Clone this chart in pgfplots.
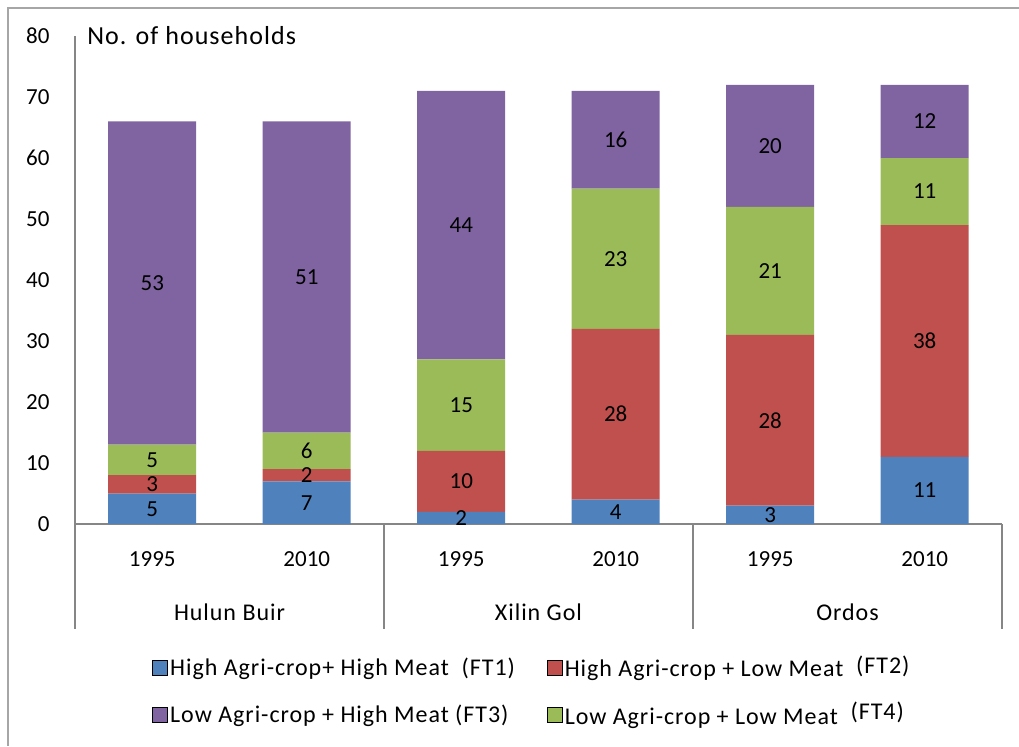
\documentclass[border=0pt]{standalone}
\usepackage{fontspec}
\setmainfont{Carlito}
\newfontfamily\widefont[LetterSpace=4.0]{Carlito}
\usepackage{pgfplots}
\pgfplotsset{compat=1.18}
\usepackage{pgfplotstable}
\definecolor{ftblue}{HTML}{4F81BD}
\definecolor{ftred}{HTML}{C0504D}
\definecolor{ftgreen}{HTML}{9BBB59}
\definecolor{ftpurple}{HTML}{8064A2}
\definecolor{axgray}{HTML}{868686}
\definecolor{bordergray}{HTML}{A6A6A6}

\pgfplotstableread{
x ft1 ft2 ft4 ft3
0 5  3  5  53
1 7  2  6  51
2 2  10 15 44
3 4  28 23 16
4 3  28 21 20
5 11 38 11 12
}\datatable

\begin{document}
{\fontsize{11.5}{14}\selectfont
\begin{tikzpicture}
\path[use as bounding box] (-37.5pt,-111pt) rectangle (472pt,262pt);
\draw[bordergray, line width=1pt] (-33.5pt,-111pt) -- (-33.5pt,258pt) -- (472pt,258pt);
\begin{axis}[
  at={(0,0)}, anchor=south west,
  scale only axis, width=463.5pt, height=244pt,
  xmin=-0.5, xmax=5.5, ymin=0, ymax=80,
  axis line style={draw=none},
  tick style={draw=none},
  ytick={0,10,...,80},
  xtick={0,...,5},
  xticklabels={1995,2010,1995,2010,1995,2010},
  yticklabel style={anchor=east, xshift=-8.7pt},
  xticklabel style={anchor=center, yshift=-17.5pt},
  /pgf/number format/assume math mode=true,
  ybar stacked, bar width=44pt,
  clip=false,
  nodes near coords={\pgfmathprintnumber{\pgfplotspointmeta}},
  point meta=explicit,
  every node near coord/.append style={anchor=center, text=black, inner sep=0pt},
  legend image code/.code={\fill[#1] (0pt,-3.75pt) rectangle (7.5pt,3.75pt);},
  legend columns=2,
  legend cell align=left,
  legend style={at={(axis description cs:0.0831,-0.266)}, anchor=north west,
    draw=none, fill=none, inner sep=0pt, row sep=9pt,
    font=\fontsize{12}{14}\widefont,
    nodes={inner sep=1pt},
    /tikz/every even column/.append style={column sep=15pt}},
]
\addlegendimage{fill=ftblue}
\addlegendentry{High Agri-crop+ High Meat\ \ (FT1)}
\addlegendimage{fill=ftred}
\addlegendentry{High Agri-crop + Low Meat\ \ \raisebox{1.5pt}{(FT2)}}
\addlegendimage{fill=ftpurple}
\addlegendentry{Low Agri-crop + High Meat (FT3)}
\addlegendimage{fill=ftgreen}
\addlegendentry{Low Agri-crop + Low Meat\ \ \raisebox{2.5pt}{(FT4)}}

\addplot[forget plot, fill=ftblue, draw=none] table[x=x, y=ft1, meta=ft1] {\datatable};
\addplot[forget plot, fill=ftred, draw=none] table[x=x, y=ft2, meta=ft2] {\datatable};
\addplot[forget plot, fill=ftgreen, draw=none] table[x=x, y=ft4, meta=ft4] {\datatable};
\addplot[forget plot, fill=ftpurple, draw=none] table[x=x, y=ft3, meta=ft3] {\datatable};

\draw[axgray, line width=0.9pt] (axis cs:-0.5,80) -- (axis cs:-0.5,0) -- ([yshift=-52.5pt]axis cs:-0.5,0);
\draw[axgray, line width=0.9pt] (axis cs:-0.5,0) -- (axis cs:5.5,0);
\draw[axgray, line width=0.9pt] (axis cs:1.5,0) -- ([yshift=-52.5pt]axis cs:1.5,0);
\draw[axgray, line width=0.9pt] (axis cs:3.5,0) -- ([yshift=-52.5pt]axis cs:3.5,0);
\draw[axgray, line width=0.9pt] (axis cs:5.5,0) -- ([yshift=-52.5pt]axis cs:5.5,0);
\node[anchor=west, inner sep=0pt, xshift=6pt, font=\fontsize{13}{15}\widefont] at (axis cs:-0.5,80) {No. of households};
\node[yshift=-44pt, font=\fontsize{12}{14}\widefont] at (axis cs:0.5,0) {Hulun Buir};
\node[yshift=-44pt, font=\fontsize{12}{14}\widefont] at (axis cs:2.5,0) {Xilin Gol};
\node[yshift=-44pt, font=\fontsize{12}{14}\widefont] at (axis cs:4.5,0) {Ordos};
\end{axis}
\end{tikzpicture}}
\end{document}
